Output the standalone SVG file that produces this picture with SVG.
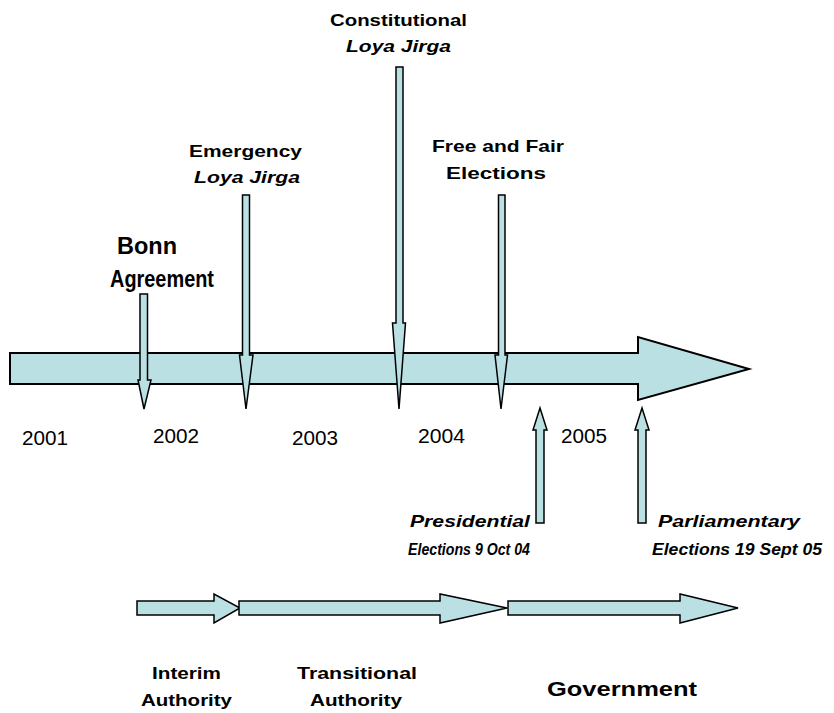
<svg xmlns="http://www.w3.org/2000/svg" width="834" height="713" viewBox="0 0 834 713">
<style>
.ar{fill:#BAE0E4;stroke:#000;stroke-width:1.5;stroke-linejoin:miter}
.main{fill:#BAE0E4;stroke:#000;stroke-width:2}
text{font-family:"Liberation Sans",Arial,sans-serif;fill:#000}
.b{font-weight:bold;font-size:17px}
.bi{font-weight:bold;font-style:italic;font-size:17px}
.big{font-weight:bold;font-size:23px}
.yr{font-size:20px}
.gov{font-weight:bold;font-size:21px}
</style>
<rect width="834" height="713" fill="#fff"/>
<g id="connectors">
<g id="timeline"><polygon class="main" points="10,353 638,353 638,337 749,369 638,400 638,384 10,384"/></g>
<g id="arrow-bonn"><polygon class="ar" points="140,294 147.5,294 147.5,380 151,380 144,409 138,380 140,380"/></g>
<g id="arrow-emergency"><polygon class="ar" points="242.5,195 249.5,195 249.5,355 253,355 246,409 239.5,355 242.5,355"/></g>
<g id="arrow-constitutional"><polygon class="ar" points="396,67 403,67 403,323 405.5,323 399,409 392.5,323 396,323"/></g>
<g id="arrow-free"><polygon class="ar" points="498.5,195 505,195 505,355 507.5,355 501,409 495,355 498.5,355"/></g>
<g id="arrow-presidential"><polygon class="ar" points="536,523 544,523 544,430 547,430 540,408 533,430 536,430"/></g>
<g id="arrow-parliamentary"><polygon class="ar" points="638,523 646,523 646,430 649,430 642,408 635,430 638,430"/></g>
<g id="arrow-interim"><polygon class="ar" points="137,601 214,601 214,594 240,608 214,623 214,615 137,615"/></g>
<g id="arrow-transitional"><polygon class="ar" points="239,601 440,601 440,594 507,608 440,623 440,615 239,615"/></g>
<g id="arrow-government"><polygon class="ar" points="508,601 680,601 680,594 738,608 680,623 680,615 508,615"/></g>
</g>
<g id="node-bonn">
<text class="big" x="117" y="254" textLength="60" lengthAdjust="spacingAndGlyphs">Bonn</text>
<text class="big" x="110" y="287" textLength="104" lengthAdjust="spacingAndGlyphs">Agreement</text>
</g>
<g id="node-emergency">
<text class="b" x="189" y="157" textLength="113" lengthAdjust="spacingAndGlyphs">Emergency</text>
<text class="bi" x="194" y="183" textLength="106" lengthAdjust="spacingAndGlyphs">Loya Jirga</text>
</g>
<g id="node-constitutional">
<text class="b" x="330" y="26" textLength="137" lengthAdjust="spacingAndGlyphs">Constitutional</text>
<text class="bi" x="346" y="52" textLength="105" lengthAdjust="spacingAndGlyphs">Loya Jirga</text>
</g>
<g id="node-free">
<text class="b" x="432" y="152" textLength="132" lengthAdjust="spacingAndGlyphs">Free and Fair</text>
<text class="b" x="446" y="179" textLength="100" lengthAdjust="spacingAndGlyphs">Elections</text>
</g>
<g id="node-years">
<text class="yr" x="22" y="445" textLength="46" lengthAdjust="spacingAndGlyphs">2001</text>
<text class="yr" x="153" y="443" textLength="46" lengthAdjust="spacingAndGlyphs">2002</text>
<text class="yr" x="292" y="445" textLength="46" lengthAdjust="spacingAndGlyphs">2003</text>
<text class="yr" x="418" y="443" textLength="47" lengthAdjust="spacingAndGlyphs">2004</text>
<text class="yr" x="561" y="443" textLength="46" lengthAdjust="spacingAndGlyphs">2005</text>
</g>
<g id="node-presidential">
<text class="bi" x="410" y="527" textLength="120" lengthAdjust="spacingAndGlyphs">Presidential</text>
<text class="bi" x="408" y="555" textLength="122" lengthAdjust="spacingAndGlyphs">Elections 9 Oct 04</text>
</g>
<g id="node-parliamentary">
<text class="bi" x="658" y="527" textLength="142" lengthAdjust="spacingAndGlyphs">Parliamentary</text>
<text class="bi" x="652" y="555" textLength="170" lengthAdjust="spacingAndGlyphs">Elections 19 Sept 05</text>
</g>
<g id="node-interim">
<text class="b" x="152" y="679" textLength="69" lengthAdjust="spacingAndGlyphs">Interim</text>
<text class="b" x="141" y="706" textLength="91" lengthAdjust="spacingAndGlyphs">Authority</text>
</g>
<g id="node-transitional">
<text class="b" x="297" y="679" textLength="120" lengthAdjust="spacingAndGlyphs">Transitional</text>
<text class="b" x="310" y="706" textLength="92" lengthAdjust="spacingAndGlyphs">Authority</text>
</g>
<g id="node-government">
<text class="gov" x="547" y="696" textLength="150" lengthAdjust="spacingAndGlyphs">Government</text>
</g>
</svg>
